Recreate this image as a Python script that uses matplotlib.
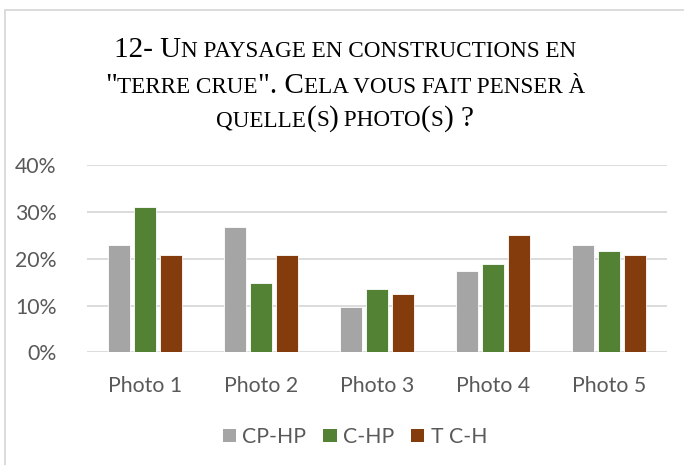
import matplotlib
matplotlib.use("Agg")
import matplotlib.pyplot as plt
import numpy as np
from matplotlib.patches import Rectangle, Patch
from matplotlib.ticker import FuncFormatter

categories = ["Photo 1", "Photo 2", "Photo 3", "Photo 4", "Photo 5"]
series_names = ["CP-HP", "C-HP", "T C-H"]
cp_hp = [23.0, 26.9, 9.6, 17.3, 23.0]
c_hp = [31.0, 14.8, 13.5, 18.9, 21.6]
t_ch = [20.8, 20.8, 12.5, 25.0, 20.8]
colors = ["#A5A5A5", "#548235", "#843C0C"]
yticks = [0, 10, 20, 30, 40]

W, H = 684, 465
fig = plt.figure(figsize=(W / 100, H / 100), dpi=100)

# outer chart border (left/top visible)
fig.patches.append(Rectangle((5 / W, -0.1), 1.2, 1 - 10 / H + 0.1, transform=fig.transFigure,
                             fill=False, edgecolor="#D9D9D9", linewidth=1.3))

ax = fig.add_axes([87 / W, 1 - 352.3 / H, (667 - 87) / W, (352.3 - 165.3) / H])
x = np.arange(len(categories))
width = 0.185
offsets = [-0.225, 0.0, 0.225]
for vals, c, off, name in zip([cp_hp, c_hp, t_ch], colors, offsets, series_names):
    ax.bar(x + off, vals, width=width, color=c, edgecolor="white", linewidth=0.6, zorder=3, label=name)

ax.set_xlim(-0.5, len(categories) - 0.5)
ax.set_ylim(0, 40)
ax.set_yticks(yticks)
ax.yaxis.set_major_formatter(FuncFormatter(lambda v, p: f"{int(v)}%"))
ax.set_xticks(x)
ax.set_xticklabels(categories)
ax.grid(axis="y", color="#D9D9D9", linewidth=1.3, zorder=0)
for s in ax.spines.values():
    s.set_visible(False)
ax.tick_params(length=0, colors="#595959", labelsize=15.3, labelfontfamily="Lato")
ax.tick_params(axis="y", pad=22)
ax.tick_params(axis="x", pad=17)

handles = [Patch(facecolor=c, edgecolor="none") for c in colors]
leg = fig.legend(handles, series_names, loc="center", bbox_to_anchor=(355 / W, 1 - 437 / H), ncol=3,
                 frameon=False, handlelength=0.62, handleheight=0.62, handletextpad=0.3,
                 columnspacing=0.8, prop={"family": "Lato", "size": 15.3})
for t in leg.get_texts():
    t.set_color("#595959")

# small-caps title built from runs
L, S = 21.0, 16.7
lines = [
    (57, [("12- U", L), ("N PAYSAGE EN CONSTRUCTIONS EN", S)]),
    (93, [('"', L), ("TERRE CRUE", S), ('". C', L), ("ELA VOUS FAIT PENSER À", S)]),
    (126, [("QUELLE", S), ("(", L), ("S", S), (")", L), (" PHOTO", S), ("(", L), ("S", S), (") ?", L)]),
]
renderer = fig.canvas.get_renderer()


def advance(s, size):
    a = fig.text(0, 0, s + "|", fontsize=size, family="Liberation Serif")
    b = fig.text(0, 0, "|", fontsize=size, family="Liberation Serif")
    w = a.get_window_extent(renderer).width - b.get_window_extent(renderer).width
    a.remove()
    b.remove()
    return w


for base, runs in lines:
    texts = []
    widths = []
    for s, size in runs:
        t = fig.text(0, 1 - base / H, s, fontsize=size, family="Liberation Serif", color="#000000",
                     va="baseline", ha="left")
        texts.append(t)
        widths.append(advance(s, size))
    total = sum(widths)
    xpos = (W / 2 + 3) - total / 2
    for t, w in zip(texts, widths):
        t.set_x(xpos / W)
        xpos += w

fig.savefig("out.png", dpi=100)
